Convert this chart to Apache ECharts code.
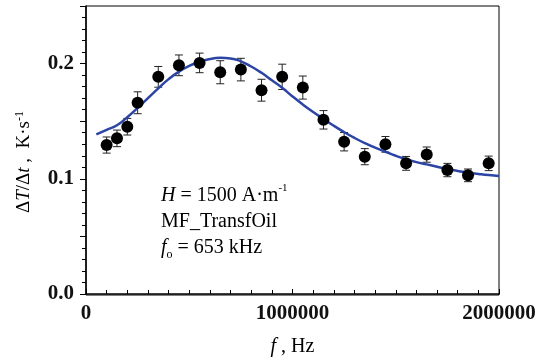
<!DOCTYPE html>
<html>
<head>
<meta charset="utf-8">
<script src="https://cdn.jsdelivr.net/npm/echarts@6/dist/echarts.min.js"></script>
<style>
  html, body { margin: 0; padding: 0; background: #fff; }
  #chart { width: 546px; height: 362px; }
</style>
</head>
<body>
<div id="chart"></div>
<script>
// measured points: frequency (Hz), heating rate (K/s), error bar half-width
const freqs = [100000, 150000, 200000, 250000, 350000, 450000, 550000, 650000, 750000, 850000, 950000,
  1050000, 1150000, 1250000, 1350000, 1450000, 1550000, 1650000, 1750000, 1850000, 1950000]
const rates = [0.1293, 0.1351, 0.1452, 0.166, 0.1885, 0.1985, 0.2006, 0.1925, 0.1948, 0.1769, 0.1885,
  0.1792, 0.1512, 0.1322, 0.1192, 0.1299, 0.1134, 0.121, 0.1076, 0.103, 0.1134]
const errs = [0.007, 0.0072, 0.0072, 0.0095, 0.009, 0.009, 0.0085, 0.01, 0.0098, 0.0095, 0.011,
  0.01, 0.008, 0.008, 0.007, 0.0068, 0.006, 0.0066, 0.0058, 0.0055, 0.0063]

// fitted curve
const fitFreqs = [50000, 100000, 150000, 200000, 250000, 300000, 350000, 400000, 450000, 500000,
  550000, 600000, 650000, 700000, 750000, 800000, 850000, 900000, 950000, 1000000,
  1050000, 1100000, 1150000, 1200000, 1250000, 1300000, 1350000, 1400000, 1450000, 1500000,
  1550000, 1600000, 1650000, 1700000, 1750000, 1800000, 1850000, 1900000, 1950000, 2000000]
const fitRates = [0.1385, 0.1425, 0.1465, 0.1535, 0.1615, 0.17, 0.1785, 0.1865, 0.193, 0.198,
  0.2015, 0.204, 0.205, 0.2045, 0.202, 0.1975, 0.192, 0.1855, 0.179, 0.1715,
  0.1645, 0.158, 0.152, 0.146, 0.1405, 0.1355, 0.131, 0.127, 0.1235, 0.12,
  0.117, 0.1145, 0.1125, 0.1105, 0.1085, 0.1068, 0.1053, 0.1042, 0.1032, 0.1024]

const yTickLabels = ['0.0', '0.1', '0.2']

const serif = '"Liberation Serif", "DejaVu Serif", serif'

const chart = echarts.init(document.getElementById('chart'))

const points = freqs.map((f, i) => [f, rates[i]])
const bars = freqs.map((f, i) => [f, rates[i] - errs[i], rates[i] + errs[i]])
const fit = fitFreqs.map((f, i) => [f, fitRates[i]])

// plot box
const G = { left: 86, right: 47, top: 6, bottom: 67 }

chart.setOption({
  animation: false,
  grid: G,
  xAxis: {
    type: 'value', min: 0, max: 2000000, interval: 1000000,
    name: '{i|f} , Hz', nameLocation: 'middle', nameGap: 43,
    nameTextStyle: {
      fontFamily: serif, fontSize: 20, color: '#000',
      rich: { i: { fontFamily: serif, fontSize: 20, fontStyle: 'italic', color: '#000' } }
    },
    axisLine: { show: true, lineStyle: { color: '#000', width: 1.5 } },
    axisTick: { show: true, inside: true, length: 5, lineStyle: { color: '#000' } },
    minorTick: { show: true, splitNumber: 10, length: 4, lineStyle: { color: '#000', width: 1 } },
    axisLabel: {
      margin: 9,
      formatter: v => String(v),
      fontFamily: serif, fontSize: 21, fontWeight: 'bold', color: '#111'
    },
    splitLine: { show: false },
    minorSplitLine: { show: false }
  },
  yAxis: {
    type: 'value', min: 0, max: 0.25, interval: 0.05,
    name: '\u0394{i|T}/\u0394{i|t} ,  K\u00b7s{sup|-1}', nameLocation: 'middle', nameGap: 52,
    nameTextStyle: {
      fontFamily: serif, fontSize: 19, color: '#000', padding: [0, 24, 0, 0],
      rich: {
        i: { fontFamily: serif, fontSize: 19, fontStyle: 'italic', color: '#000' },
        sup: { fontFamily: serif, fontSize: 12, color: '#000', verticalAlign: 'top', padding: [0, 0, 8, 0] }
      }
    },
    axisLine: { show: true, lineStyle: { color: '#000', width: 1.5 } },
    axisTick: { show: true, length: 6, lineStyle: { color: '#000' } },
    minorTick: { show: true, splitNumber: 5, length: 4, lineStyle: { color: '#000', width: 1 } },
    axisLabel: {
      margin: 12,
      formatter: v => yTickLabels.includes(v.toFixed(2).slice(0, 3)) && Math.abs(v * 10 - Math.round(v * 10)) < 1e-6 ? v.toFixed(1) : '',
      fontFamily: serif, fontSize: 21, fontWeight: 'bold', color: '#111'
    },
    splitLine: { show: false },
    minorSplitLine: { show: false }
  },
  graphic: [
    {
      // frame around the plot area
      type: 'rect', z: -1, silent: true,
      shape: { x: G.left, y: G.top, width: 546 - G.left - G.right, height: 362 - G.top - G.bottom },
      style: { fill: 'none', stroke: '#000', lineWidth: 1 }
    },
    {
      type: 'text', left: 161, top: 183,
      style: {
        text: '{i|H} = 1500 A\u00b7m{sup|-1}\nMF_TransfOil\n{i|f}{sub|o} = 653 kHz',
        font: '20px ' + serif, fill: '#000', lineHeight: 26,
        rich: {
          i: { fontFamily: serif, fontSize: 20, fontStyle: 'italic', lineHeight: 26 },
          sup: { fontFamily: serif, fontSize: 11, verticalAlign: 'top', padding: [0, 0, 10, 0] },
          sub: { fontFamily: serif, fontSize: 12, verticalAlign: 'bottom', padding: [8, 0, 0, 0] }
        }
      }
    }
  ],
  series: [
    {
      type: 'custom',
      data: bars,
      z: 1,
      renderItem: (params, api) => {
        const x = api.value(0)
        const lo = api.coord([x, api.value(1)])
        const hi = api.coord([x, api.value(2)])
        const cap = 4
        const style = { stroke: '#222', lineWidth: 1 }
        return {
          type: 'group',
          children: [
            { type: 'line', shape: { x1: lo[0], y1: lo[1], x2: hi[0], y2: hi[1] }, style },
            { type: 'line', shape: { x1: lo[0] - cap, y1: lo[1], x2: lo[0] + cap, y2: lo[1] }, style },
            { type: 'line', shape: { x1: hi[0] - cap, y1: hi[1], x2: hi[0] + cap, y2: hi[1] }, style }
          ]
        }
      }
    },
    {
      type: 'line',
      data: fit,
      smooth: true,
      showSymbol: false,
      z: 2,
      lineStyle: { color: '#2c45a5', width: 2.5 }
    },
    {
      type: 'scatter',
      data: points,
      symbol: 'circle',
      symbolSize: 12,
      z: 3,
      itemStyle: { color: '#000', opacity: 1 }
    }
  ]
})
</script>
</body>
</html>
